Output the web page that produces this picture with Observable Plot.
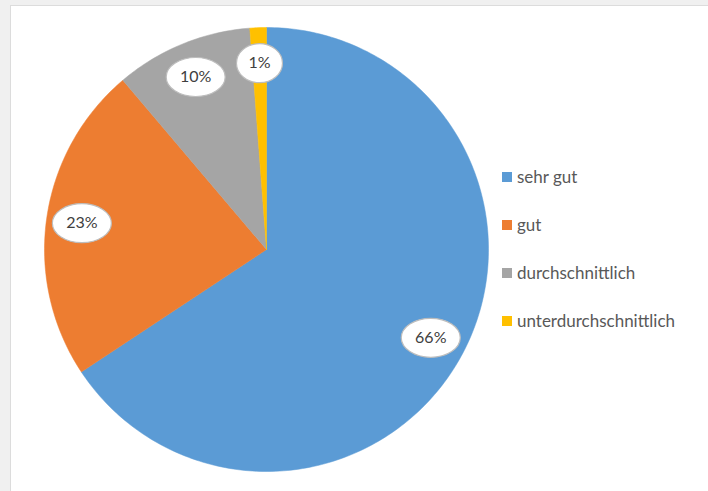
<!DOCTYPE html>
<html><head><meta charset="utf-8">
<script src="https://cdn.jsdelivr.net/npm/d3@7"></script>
<script src="https://cdn.jsdelivr.net/npm/@observablehq/plot@0.6"></script>
<style>
html,body{margin:0;padding:0;background:#f0f0f0;width:708px;height:491px;overflow:hidden;}
#panel{position:absolute;left:10px;top:5px;width:720px;height:500px;background:#fff;border:1px solid #dcdcdc;box-sizing:border-box;}
#chart{position:absolute;left:0;top:0;}
#legend{position:absolute;left:502px;top:152px;font-family:Lato,"Liberation Sans",sans-serif;font-size:17px;color:#595959;}
.row{display:flex;align-items:center;height:48px;white-space:nowrap;}
.sw{width:10px;height:10px;margin-right:5px;flex:none;position:relative;top:1px;}
</style></head>
<body>
<div id="panel"></div>
<div id="chart"></div>
<div id="legend"></div>
<script>
const categories = ["sehr gut", "gut", "durchschnittlich", "unterdurchschnittlich"];
const values = [65.7, 23.1, 10.0, 1.2];
const labels = ["66%", "23%", "10%", "1%"];
const colors = ["#5B9BD5", "#ED7D31", "#A5A5A5", "#FFC000"];

const total = d3.sum(values);
const slices = [];
const labelData = [];
let start = 0;
categories.forEach((cat, i) => {
  const a0 = start / total * 2 * Math.PI;
  const a1 = (start + values[i]) / total * 2 * Math.PI;
  start += values[i];
  const n = Math.max(4, Math.ceil((a1 - a0) * 180 / Math.PI));
  slices.push({cat, x: 0, y: 0});
  for (let k = 0; k <= n; k++) {
    const a = a0 + (a1 - a0) * k / n;
    slices.push({cat, x: Math.sin(a), y: Math.cos(a)});
  }
  slices.push({cat, x: 0, y: 0});
  const am = (a0 + a1) / 2;
  const rr = 0.84;
  labelData.push({cat, label: labels[i], x: rr * Math.sin(am), y: rr * Math.cos(am), hw: labels[i].length > 2 ? 29.5 : 23});
});

const ellipse = {
  draw(ctx, size) {
    const rx = Math.sqrt(size / Math.PI), ry = 19.5;
    const k = 0.5522847;
    ctx.moveTo(rx, 0);
    ctx.bezierCurveTo(rx, ry * k, rx * k, ry, 0, ry);
    ctx.bezierCurveTo(-rx * k, ry, -rx, ry * k, -rx, 0);
    ctx.bezierCurveTo(-rx, -ry * k, -rx * k, -ry, 0, -ry);
    ctx.bezierCurveTo(rx * k, -ry, rx, -ry * k, rx, 0);
    ctx.closePath();
  }
};

const plot = Plot.plot({
  width: 708,
  height: 491,
  marginLeft: 44,
  marginRight: 220,
  marginTop: 27,
  marginBottom: 20,
  style: {background: "transparent", fontFamily: "Lato, 'Liberation Sans', sans-serif"},
  x: {domain: [-1, 1], axis: null},
  y: {domain: [-1, 1], axis: null},
  r: {type: "identity"},
  color: {domain: categories, range: colors},
  marks: [
    Plot.line(slices, {x: "x", y: "y", z: "cat", fill: "cat", stroke: "cat", strokeWidth: 0.5, curve: "linear"}),
    Plot.dot(labelData, {x: "x", y: "y", r: "hw", symbol: ellipse, fill: "white", stroke: "#bdbdbd", strokeWidth: 1.2}),
    Plot.text(labelData, {x: "x", y: "y", text: "label", fontSize: 16, fill: "#404040"})
  ]
});
document.getElementById("chart").appendChild(plot);

const legend = d3.select("#legend");
categories.forEach((c, i) => {
  const row = legend.append("div").attr("class", "row");
  row.append("div").attr("class", "sw").style("background", colors[i]);
  row.append("span").text(c);
});
</script>
</body></html>
